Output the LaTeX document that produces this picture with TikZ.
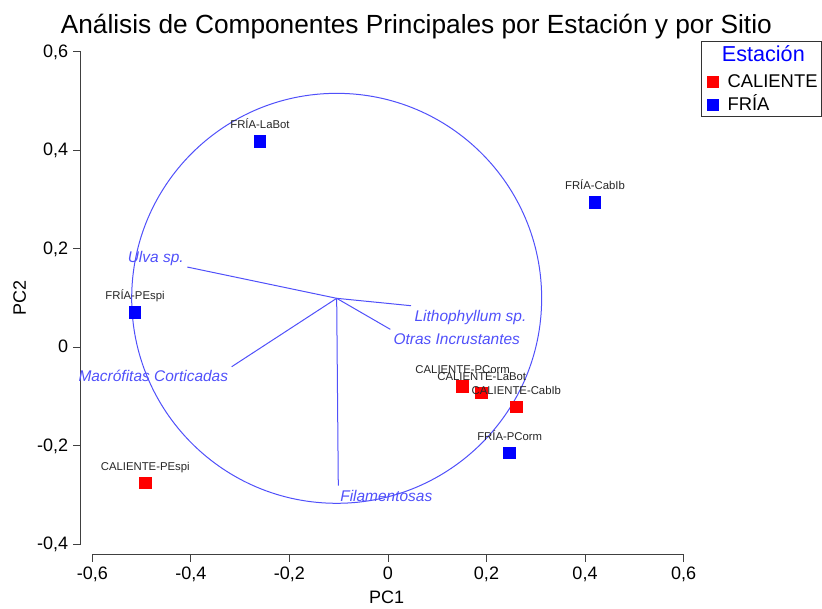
\documentclass[tikz,border=0pt]{standalone}
\usepackage{fontspec}
\setmainfont{Liberation Sans}
\usetikzlibrary{positioning}
\usetikzlibrary{calc}
\definecolor{varblue}{RGB}{80,80,250}
\tikzset{%
  ax/.style = {draw=black!75, line width=0.75pt},
  varline/.style = {draw=varblue, line width=0.75pt},
  vartext/.style = {text=varblue, inner sep=0pt,
        font=\fontsize{11.6}{13}\selectfont\itshape},
  sq/.style = {rectangle, minimum size=9.5pt, inner sep=0pt},
  cal/.style = {sq, fill=red},
  fri/.style = {sq, fill=blue},
  site/.style = {inner sep=0pt, anchor=base, text=black!85,
        font=\fontsize{8.5}{10}\selectfont},
  ticklab/.style = {inner sep=0pt, font=\fontsize{13.5}{16}\selectfont}
}

\begin{document}
\begin{tikzpicture}[x=369.375pt, y=369.375pt]
    \useasboundingbox (-0.7878,-0.5293) rectangle (0.8812,0.7052);
    % axes
    \draw[ax] (-0.6234,-0.4) -- (-0.6234,0.6);
    \draw[ax] (-0.6,-0.4197) -- (0.6,-0.4197);
    \foreach \v/\t [count=\i] in {-0.6/{-0,6},-0.4/{-0,4},-0.2/{-0,2},0/0,0.2/{0,2},0.4/{0,4},0.6/{0,6}} {
        \draw[ax] (\v,-0.4197) -- ++(0,-6pt);
        \node[ticklab, anchor=base] (xt\i) at ([yshift=-19pt]\v,-0.4197) {\t};
    }
    \foreach \v/\t [count=\i] in {-0.4/{-0,4},-0.2/{-0,2},0/0,0.2/{0,2},0.4/{0,4},0.6/{0,6}} {
        \draw[ax] (-0.6234,\v) -- ++(-6pt,0);
        \node[ticklab, anchor=base east] (yt\i) at ([xshift=-9.5pt,yshift=-4pt]-0.6234,\v) {\t};
    }
    \node[ticklab] (pc1) at (-0.0026,-0.5071) {PC1};
    \node[ticklab, rotate=90] (pc2) at (-0.7478,0.1011) {PC2};
    \node[inner sep=0pt, anchor=base, font=\fontsize{19.7}{23}\selectfont] (title)
        at (0.0575,0.6376) {Análisis de Componentes Principales por Estación y por Sitio};

    % correlation circle and variables
    \coordinate (ctr) at (-0.1042,0.0995);
    \coordinate (ulva) at (-0.4075,0.163);
    \coordinate (litho) at (0.0467,0.0845);
    \coordinate (otras) at (0.0047,0.0365);
    \coordinate (macro) at (-0.3174,-0.0394);
    \coordinate (filam) at (-0.1009,-0.281);
    \draw[varline] (ctr) circle[radius=0.4162];
    \draw[varline] (ctr) -- (ulva);
    \draw[varline] (ctr) -- (litho);
    \draw[varline] (ctr) -- (otras);
    \draw[varline] (ctr) -- (macro);
    \draw[varline] (ctr) -- (filam);
    \node[vartext, anchor=base east] (tulva) at ([xshift=-2.5pt,yshift=3.2pt]ulva) {Ulva sp.};
    \node[vartext, anchor=base west] (tlitho) at ([xshift=2.5pt,yshift=-11.5pt]litho) {Lithophyllum sp.};
    \node[vartext, anchor=base west] (totras) at ([xshift=2.25pt,yshift=-11pt]otras) {Otras Incrustantes};
    \node[vartext, anchor=base east] (tmacro) at ([xshift=-2.5pt,yshift=-11.25pt]macro) {Macrófitas Corticadas};
    \node[vartext, anchor=base west] (tfilam) at ([xshift=1.3pt,yshift=-11.5pt]filam) {Filamentosas};

    % sites
    \node[fri] (flabot) at (-0.2599,0.4175) {};
    \node[fri] (fcabib) at (0.4203,0.2936) {};
    \node[fri] (fpespi) at (-0.5137,0.0703) {};
    \node[fri] (fpcorm) at (0.2471,-0.2146) {};
    \node[cal] (cpespi) at (-0.4928,-0.2755) {};
    \node[cal] (cpcorm) at (0.1517,-0.08) {};
    \node[cal] (clabot) at (0.1903,-0.0928) {};
    \node[cal] (ccabib) at (0.2605,-0.1212) {};
    \node[site] (lflabot) at ([yshift=9.75pt]flabot.center) {FRÍA-LaBot};
    \node[site] (lfcabib) at ([yshift=9.75pt]fcabib.center) {FRÍA-CabIb};
    \node[site] (lfpespi) at ([yshift=9.75pt]fpespi.center) {FRÍA-PEspi};
    \node[site] (lfpcorm) at ([yshift=9.75pt]fpcorm.center) {FRÍA-PCorm};
    \node[site] (lcpespi) at ([yshift=9.75pt]cpespi.center) {CALIENTE-PEspi};
    \node[site] (lcpcorm) at ([yshift=9.75pt]cpcorm.center) {CALIENTE-PCorm};
    \node[site] (lclabot) at ([yshift=9.75pt]clabot.center) {CALIENTE-LaBot};
    \node[site] (lccabib) at ([yshift=9.75pt]ccabib.center) {CALIENTE-CabIb};

    % legend
    \draw[draw=black!80, line width=0.75pt] (0.637,0.4696) rectangle (0.8798,0.6205);
    \node[inner sep=0pt, anchor=base, text=blue, font=\fontsize{16.2}{19}\selectfont] (legtitle)
        at (0.7621,0.58) {Estación};
    \node[cal, minimum size=9pt] (legcal) at (0.6605,0.5393) {};
    \node[fri, minimum size=9pt] (legfri) at (0.6605,0.492) {};
    \node[ticklab, anchor=base west, font=\fontsize{13.8}{16}\selectfont] (tcal) at (0.6889,0.5279) {CALIENTE};
    \node[ticklab, anchor=base west, font=\fontsize{13.8}{16}\selectfont] (tfri) at (0.6889,0.4818) {FRÍA};
\end{tikzpicture}
\end{document}
